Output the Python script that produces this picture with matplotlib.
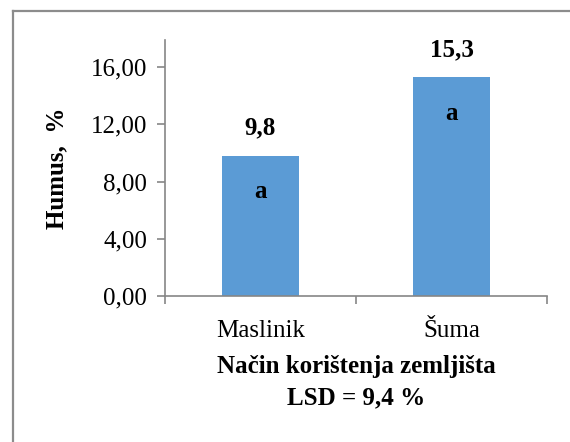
import matplotlib
matplotlib.use("Agg")
import matplotlib.pyplot as plt
from matplotlib.lines import Line2D

categories = ['Maslinik', 'Šuma']
humus = [9.8, 15.3]
value_labels = ['9,8', '15,3']
letters = ['a', 'a']
yticks = [0, 4, 8, 12, 16]
ytick_labels = ['0,00', '4,00', '8,00', '12,00', '16,00']

plt.rcParams['font.family'] = ['Liberation Serif', 'DejaVu Serif']
grey = '#868686'
fs = 18

fig = plt.figure(figsize=(5.70, 4.42), dpi=100)
# chart-area border, only top and left edges are inside the picture
bx, by = 12.5 / 570, 1 - 10.5 / 442
fig.lines.append(Line2D([bx, 1.05], [by, by], transform=fig.transFigure, color='#8c8c8c', linewidth=1.6))
fig.lines.append(Line2D([bx, bx], [-0.05, by], transform=fig.transFigure, color='#8c8c8c', linewidth=1.6))

ax = fig.add_axes([165 / 570, 146 / 442, 382 / 570, 256 / 442])
x = range(len(categories))
bars = ax.bar(x, humus, width=0.4, color='#5B9BD5')

ax.set_xlim(-0.5, len(categories) - 0.5)
ax.set_ylim(0, 17.9)
ax.set_yticks(yticks)
ax.set_yticklabels(ytick_labels, fontsize=fs)
ax.set_xticks(list(x))
ax.set_xticklabels(categories, fontsize=fs)
ax.set_xticks([-0.5, 0.5, 1.5], minor=True)
ax.tick_params(axis='x', which='major', length=0, pad=17)
ax.tick_params(axis='x', which='minor', length=6, color=grey, width=1.2)
ax.tick_params(axis='y', length=6, color=grey, width=1.2, pad=7)

for s in ['top', 'right']:
    ax.spines[s].set_visible(False)
for s in ['left', 'bottom']:
    ax.spines[s].set_color(grey)
    ax.spines[s].set_linewidth(1.2)

for i, v in enumerate(humus):
    ax.annotate(value_labels[i], (i, v), xytext=(0, 20), textcoords='offset points',
                ha='center', va='center', fontsize=fs, fontweight='bold')
    ax.annotate(letters[i], (i, v), xytext=(0, -26), textcoords='offset points',
                ha='center', va='center', fontsize=fs, fontweight='bold')

ax.set_xlabel('Način korištenja zemljišta\nLSD = 9,4 %', fontsize=fs, fontweight='bold',
              linespacing=1.42, labelpad=10)
ax.set_ylabel('Humus,  %', fontsize=fs, fontweight='bold', labelpad=16)

fig.savefig('out.png', dpi=100)
